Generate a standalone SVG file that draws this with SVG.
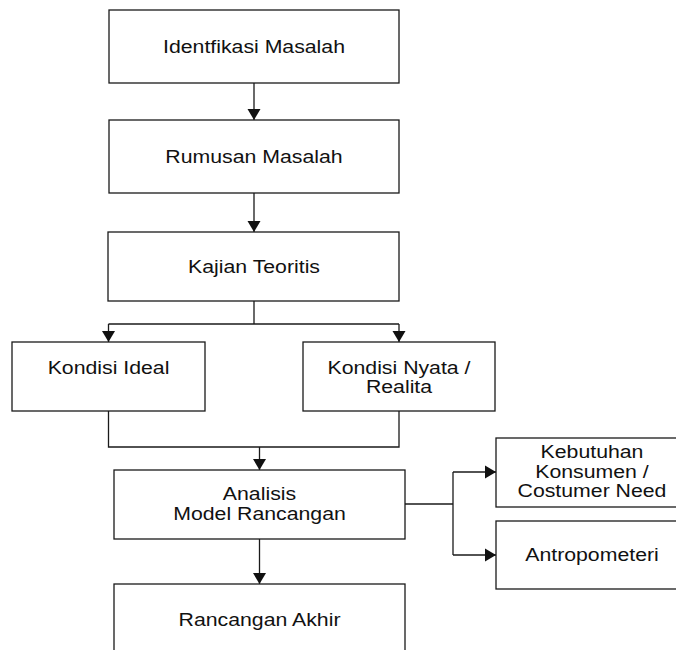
<svg xmlns="http://www.w3.org/2000/svg" width="676" height="650" viewBox="0 0 676 650">
<defs>
<style>
.box{fill:#fff;stroke:#1a1a1a;stroke-width:1.3}
.ln{fill:none;stroke:#1a1a1a;stroke-width:1.3}
.t{font-family:"Liberation Sans",Arial,sans-serif;font-size:18.5px;fill:#111;text-anchor:middle}
</style>
<marker id="ah" markerUnits="userSpaceOnUse" markerWidth="14" markerHeight="14" viewBox="0 0 14 14" refX="11" refY="7" orient="auto">
<path d="M0,0.5 L11,7 L0,13.5 Z" fill="#111"/>
</marker>
</defs>
<rect width="676" height="650" fill="#fff"/>
<g id="connectors">
<path class="ln" d="M254,83 V120" marker-end="url(#ah)"/>
<path class="ln" d="M254,193 V232" marker-end="url(#ah)"/>
<path class="ln" d="M254,301 V324"/>
<path class="ln" d="M108.5,324 H399"/>
<path class="ln" d="M108.5,324 V342" marker-end="url(#ah)"/>
<path class="ln" d="M399,324 V342" marker-end="url(#ah)"/>
<path class="ln" d="M108.5,411 V447 H399 V411"/>
<path class="ln" d="M259.5,447 V470" marker-end="url(#ah)"/>
<path class="ln" d="M405,504 H453"/>
<path class="ln" d="M453,472 V555"/>
<path class="ln" d="M453,472 H496" marker-end="url(#ah)"/>
<path class="ln" d="M453,555 H496" marker-end="url(#ah)"/>
<path class="ln" d="M259.5,539 V584" marker-end="url(#ah)"/>
</g>
<g id="identifikasi">
<rect class="box" x="109" y="10" width="290" height="73"/>
<text class="t" transform="translate(254,53) scale(1.15,1)">Identfikasi Masalah</text>
</g>
<g id="rumusan">
<rect class="box" x="109" y="120" width="290" height="73"/>
<text class="t" transform="translate(254,163) scale(1.15,1)">Rumusan Masalah</text>
</g>
<g id="kajian">
<rect class="box" x="108" y="232" width="291" height="69"/>
<text class="t" transform="translate(254,273) scale(1.15,1)">Kajian Teoritis</text>
</g>
<g id="ideal">
<rect class="box" x="12" y="342" width="193" height="69"/>
<text class="t" transform="translate(108.5,373.5) scale(1.15,1)">Kondisi Ideal</text>
</g>
<g id="nyata">
<rect class="box" x="303" y="342" width="192" height="69"/>
<text class="t" transform="translate(399,373.5) scale(1.15,1)">Kondisi Nyata /</text>
<text class="t" transform="translate(399,393) scale(1.15,1)">Realita</text>
</g>
<g id="analisis">
<rect class="box" x="114" y="470" width="291" height="69"/>
<text class="t" transform="translate(259.5,500) scale(1.15,1)">Analisis</text>
<text class="t" transform="translate(259.5,520) scale(1.15,1)">Model Rancangan</text>
</g>
<g id="kebutuhan">
<rect class="box" x="496" y="438" width="195" height="69"/>
<text class="t" transform="translate(592,458) scale(1.15,1)">Kebutuhan</text>
<text class="t" transform="translate(592,477.5) scale(1.15,1)">Konsumen /</text>
<text class="t" transform="translate(592,497) scale(1.15,1)">Costumer Need</text>
</g>
<g id="antropometeri">
<rect class="box" x="496" y="521" width="195" height="68"/>
<text class="t" transform="translate(592,560.5) scale(1.15,1)">Antropometeri</text>
</g>
<g id="rancangan">
<rect class="box" x="114" y="584" width="291" height="80"/>
<text class="t" transform="translate(259.5,625.5) scale(1.15,1)">Rancangan Akhir</text>
</g>
</svg>
